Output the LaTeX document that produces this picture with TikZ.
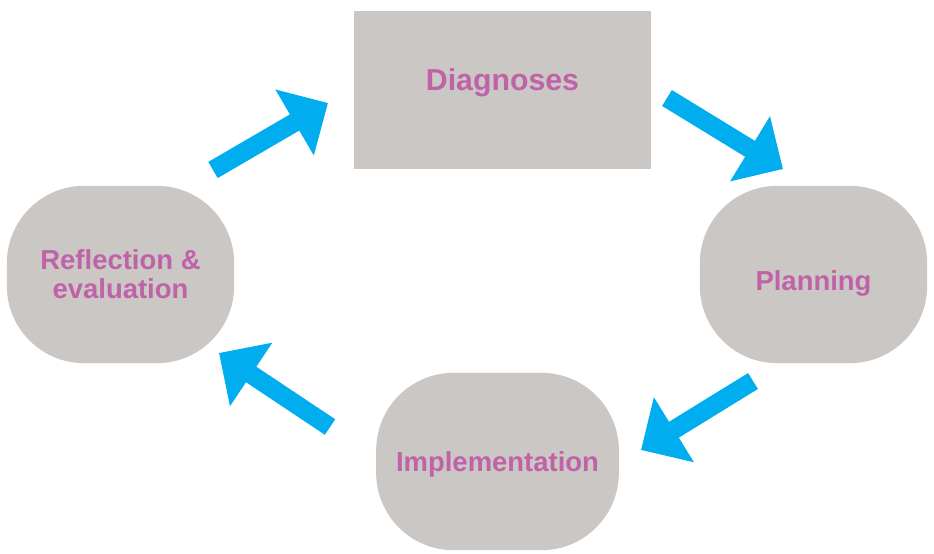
\documentclass[tikz,border=0pt]{standalone}
\usepackage{fontspec}
\setmainfont{Liberation Sans}
\usetikzlibrary{arrows.meta}
\definecolor{cinza}{HTML}{CBC7C5}
\definecolor{rosa}{HTML}{C062A8}
\definecolor{azul}{HTML}{00ADEF}
\begin{document}
\begin{tikzpicture}[
                x=0.75pt, y=-0.75pt,
                etapa/.style={shape=rectangle, fill=cinza, text=rosa, align=center, inner sep=0pt,
                    font=\bfseries\fontsize{20.6}{22}\selectfont},
                caixa/.style={etapa, minimum width=222.75pt, minimum height=118.5pt,
                    font=\bfseries\fontsize{22.7}{24}\selectfont},
                oval/.style={etapa, rounded corners=58pt, minimum width=170.5pt, minimum height=133pt},
                seta/.style={draw=azul, line width=14pt, -{Triangle[length=29pt, width=55.5pt]}},
            ]
            \useasboundingbox (0,0) rectangle (934,553);
            \node[caixa, text height=16.3pt, text depth=15pt] (diag) at (502.5, 90) {Diagnoses};
            \node[oval, text height=24.6pt, text depth=0pt] (plan) at (813.5, 274.5) {Planning};
            \node[oval, minimum width=182pt, text height=14.75pt, text depth=0pt] (impl) at (497.5, 461.5) {Implementation};
            \node[oval] (refl) at (120.5, 274.5) {Reflection \&\\evaluation};
            \coordinate (refl-out) at (213, 170);
            \coordinate (diag-in) at (328, 103);
            \coordinate (diag-out) at (667, 98);
            \coordinate (plan-in) at (783, 169);
            \coordinate (plan-out) at (753, 381);
            \coordinate (impl-in) at (641, 450);
            \coordinate (impl-out) at (330, 427);
            \coordinate (refl-in) at (219, 353);
            \draw[seta] (refl-out) -- (diag-in);
            \draw[seta] (diag-out) -- (plan-in);
            \draw[seta] (plan-out) -- (impl-in);
            \draw[seta] (impl-out) -- (refl-in);
        \end{tikzpicture}
\end{document}
